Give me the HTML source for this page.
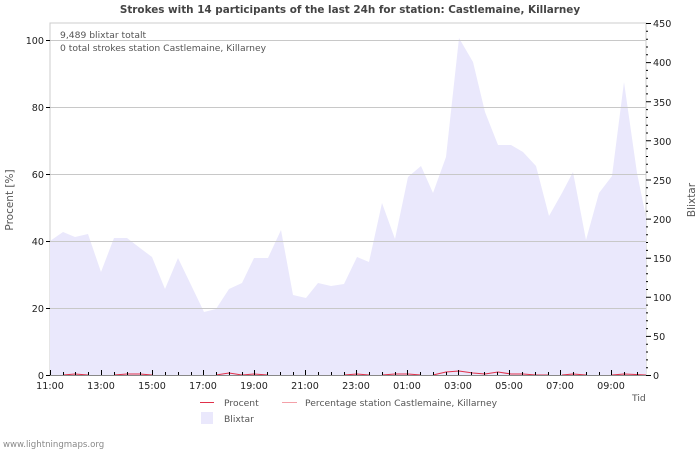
<!DOCTYPE html>
<html><head><meta charset="utf-8"><style>body{margin:0;background:#fff}svg{display:block;font-family:"DejaVu Sans","Liberation Sans",sans-serif}</style></head><body>
<svg width="700" height="450" viewBox="0 0 700 450">
<text x="350" y="13" text-anchor="middle" font-size="10.4" font-weight="bold" fill="#444">Strokes with 14 participants of the last 24h for station: Castlemaine, Killarney</text>
<rect x="50" y="23" width="596" height="352" fill="#fff" stroke="#ccc"/>
<polygon fill="#eae8fc" points="50,375 50,241 63,232 75,237 88,234 101,272 114,238 127,238 140,248 152,257 165,289 178,258 192,287 204,312 216,309 229,289 242,283 254,258 268,258 281,230 293,295 306,298 318,283 331,286 344,284 357,257 369,262 382,203 395,239 408,177 421,166 433,193 446,157 459,38 473,62 485,112 498,145 511,145 523,152 536,166 549,216 562,193 573,172 586,240 599,193 612,176 624,82 637,173 646,217 646,375"/>
<g stroke="#c8c8c8" stroke-width="1">
<line x1="50" y1="40.5" x2="646" y2="40.5"/><line x1="50" y1="107.5" x2="646" y2="107.5"/><line x1="50" y1="174.5" x2="646" y2="174.5"/><line x1="50" y1="241.5" x2="646" y2="241.5"/><line x1="50" y1="308.5" x2="646" y2="308.5"/>
</g>
<g stroke="#e0304a" stroke-width="1" fill="none">
<polyline points="63,375 75,374 88,375"/><polyline points="114,375 127,374 140,374 152,375"/><polyline points="216,375 229,373 242,375"/><polyline points="242,375 254,374 268,375"/><polyline points="344,375 357,374 369,375"/><polyline points="382,375 395,374 408,374 421,375"/><polyline points="433,375 446,372 459,371 473,373 485,374 498,372 511,374 523,374 536,375 549,375"/><polyline points="562,375 573,374 586,375"/><polyline points="612,375 624,374 646,375"/>
</g>
<g stroke="#000" stroke-width="1">
<line x1="50" y1="375.5" x2="646" y2="375.5" stroke="#888"/>
<path d="M50.5 375v-5M63.5 375v-3M75.5 375v-3M88.5 375v-3M101.5 375v-5M114.5 375v-3M127.5 375v-3M140.5 375v-3M152.5 375v-5M165.5 375v-3M178.5 375v-3M191.5 375v-3M203.5 375v-5M216.5 375v-3M229.5 375v-3M242.5 375v-3M254.5 375v-5M267.5 375v-3M280.5 375v-3M293.5 375v-3M305.5 375v-5M318.5 375v-3M331.5 375v-3M344.5 375v-3M356.5 375v-5M369.5 375v-3M382.5 375v-3M395.5 375v-3M407.5 375v-5M420.5 375v-3M433.5 375v-3M446.5 375v-3M458.5 375v-5M471.5 375v-3M484.5 375v-3M497.5 375v-3M509.5 375v-5M522.5 375v-3M535.5 375v-3M548.5 375v-3M560.5 375v-5M573.5 375v-3M586.5 375v-3M599.5 375v-3M611.5 375v-5M624.5 375v-3M637.5 375v-3"/>
<path d="M46 375.5h4M46 308.5h4M46 241.5h4M46 174.5h4M46 107.5h4M46 40.5h4"/>
</g>
<g stroke="#000">
<path d="M646 375.5h5M646 367.7h2M646 359.9h2M646 352.0h2M646 344.2h2M646 336.4h5M646 328.6h2M646 320.8h2M646 312.9h2M646 305.1h2M646 297.3h5M646 289.5h2M646 281.6h2M646 273.8h2M646 266.0h2M646 258.2h5M646 250.4h2M646 242.5h2M646 234.7h2M646 226.9h2M646 219.1h5M646 211.2h2M646 203.4h2M646 195.6h2M646 187.8h2M646 180.0h5M646 172.1h2M646 164.3h2M646 156.5h2M646 148.7h2M646 140.8h5M646 133.0h2M646 125.2h2M646 117.4h2M646 109.6h2M646 101.7h5M646 93.9h2M646 86.1h2M646 78.3h2M646 70.4h2M646 62.6h5M646 54.8h2M646 47.0h2M646 39.2h2M646 31.3h2M646 23.5h5"/>
</g>
<g font-size="9.6" fill="#222">
<g text-anchor="end"><text x="44" y="379">0</text><text x="44" y="312">20</text><text x="44" y="245">40</text><text x="44" y="178">60</text><text x="44" y="111">80</text><text x="44" y="44">100</text></g>
<g><text x="653" y="379">0</text><text x="653" y="340">50</text><text x="653" y="301">100</text><text x="653" y="262">150</text><text x="653" y="223">200</text><text x="653" y="184">250</text><text x="653" y="145">300</text><text x="653" y="106">350</text><text x="653" y="66">400</text><text x="653" y="27">450</text></g>
<g text-anchor="middle"><text x="50" y="389">11:00</text><text x="101" y="389">13:00</text><text x="152" y="389">15:00</text><text x="203" y="389">17:00</text><text x="254" y="389">19:00</text><text x="305" y="389">21:00</text><text x="356" y="389">23:00</text><text x="407" y="389">01:00</text><text x="458" y="389">03:00</text><text x="509" y="389">05:00</text><text x="560" y="389">07:00</text><text x="611" y="389">09:00</text></g>
</g>
<g font-size="9.2" fill="#555">
<text x="60" y="38">9,489 blixtar totalt</text>
<text x="60" y="51">0 total strokes station Castlemaine, Killarney</text>
<text x="632" y="401">Tid</text>
<text transform="translate(13,200) rotate(-90)" text-anchor="middle" font-size="10.5">Procent   [%]</text>
<text transform="translate(695,200) rotate(-90)" text-anchor="middle" font-size="10.5">Blixtar</text>
<text x="224" y="406">Procent</text>
<text x="305" y="406">Percentage station Castlemaine, Killarney</text>
<text x="224" y="422">Blixtar</text>
<text x="3" y="447" fill="#888" font-size="8.6">www.lightningmaps.org</text>
</g>
<line x1="200" y1="402.5" x2="214" y2="402.5" stroke="#e0304a"/>
<line x1="282" y1="402.5" x2="297" y2="402.5" stroke="#f4a0a8"/>
<rect x="201" y="412" width="12" height="12" fill="#eae8fc"/>
</svg>
</body></html>
